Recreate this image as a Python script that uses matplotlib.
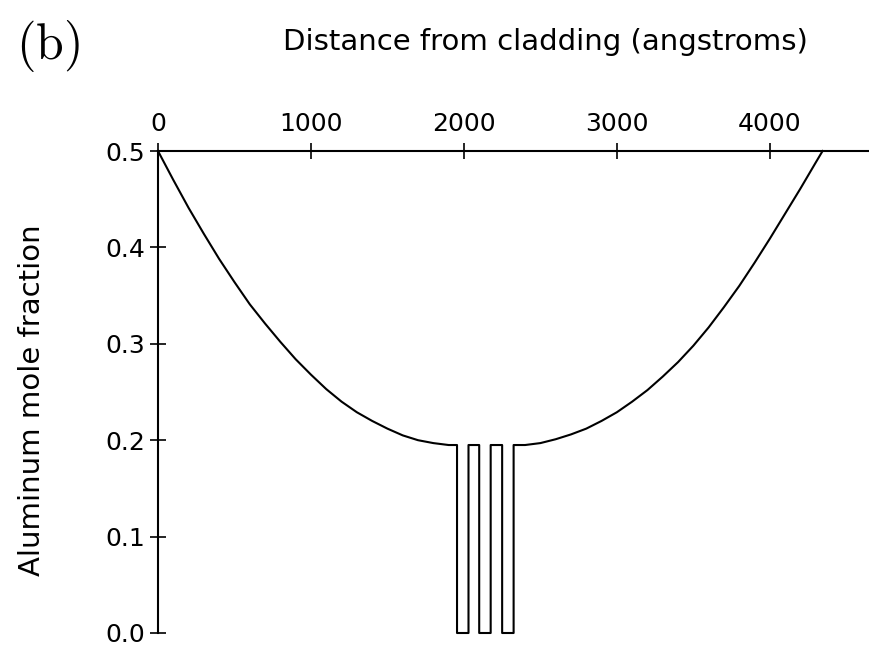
import matplotlib.pyplot as plt

# Perfil de fracción molar de aluminio (GRIN-SCH con tres pozos cuánticos)
# Rama izquierda del perfil graduado
x_izq = [0, 100, 200, 300, 400, 500, 600, 700, 800, 900, 1000,
         1100, 1200, 1300, 1400, 1500, 1600, 1700, 1800, 1900, 1955]
y_izq = [0.500, 0.470, 0.441, 0.414, 0.388, 0.364, 0.341, 0.321, 0.302, 0.284, 0.268,
         0.253, 0.240, 0.229, 0.220, 0.212, 0.205, 0.200, 0.197, 0.195, 0.195]

# Bordes de pozos y barreras
bordes_pozos = [1955, 2030, 2100, 2175, 2250, 2325]
nivel_barrera = 0.195
nivel_pozo = 0.0

# Rama derecha del perfil graduado
x_der = [2325, 2400, 2500, 2600, 2700, 2800, 2900, 3000, 3100, 3200, 3300,
         3400, 3500, 3600, 3700, 3800, 3900, 4000, 4100, 4200, 4300, 4345]
y_der = [0.195, 0.195, 0.197, 0.201, 0.206, 0.212, 0.220, 0.229, 0.240, 0.252, 0.266,
         0.281, 0.298, 0.317, 0.338, 0.360, 0.384, 0.409, 0.435, 0.461, 0.488, 0.500]

ticks_x = [0, 1000, 2000, 3000, 4000]
ticks_y = [0.0, 0.1, 0.2, 0.3, 0.4, 0.5]

# Construir el recorrido completo: rama izquierda, pozos, rama derecha
x_perfil = list(x_izq)
y_perfil = list(y_izq)
for i in range(0, len(bordes_pozos), 2):
    a, b = bordes_pozos[i], bordes_pozos[i + 1]
    x_perfil += [a, a, b, b]
    y_perfil += [nivel_barrera, nivel_pozo, nivel_pozo, nivel_barrera]
x_perfil += x_der
y_perfil += y_der

plt.rcParams['mathtext.fontset'] = 'cm'

fig = plt.figure(figsize=(8.7, 6.47), dpi=100)
ax = fig.add_axes([158 / 870, 1 - 633 / 647, 1 - 158 / 870, (633 - 151) / 647])

ax.plot(x_perfil, y_perfil, color='black', linewidth=1.5, clip_on=False,
        solid_joinstyle='round')

ax.set_xlim(0, 4655)
ax.set_ylim(0, 0.5)

for lado in ['right', 'bottom']:
    ax.spines[lado].set_visible(False)
for lado in ['top', 'left']:
    ax.spines[lado].set_linewidth(1.5)

ax.xaxis.tick_top()
ax.set_xticks(ticks_x)
ax.set_xticklabels([str(t) for t in ticks_x])
ax.set_yticks(ticks_y)
ax.set_yticklabels([f'{t:.1f}' for t in ticks_y])
ax.tick_params(axis='both', direction='inout', length=11, width=1.2,
               labelsize=18, colors='black')
ax.tick_params(axis='x', pad=5)
ax.tick_params(axis='y', pad=4)

fig.text(545 / 870, 1 - 42 / 647, 'Distance from cladding (angstroms)',
         ha='center', va='center', fontsize=21)
fig.text(32 / 870, 1 - 400 / 647, 'Aluminum mole fraction',
         ha='center', va='center', rotation=90, fontsize=21)
fig.text(16 / 870, 1 - 46 / 647, r'$\mathrm{(b)}$', ha='left', va='center',
         fontsize=36)

fig.savefig('out.png', dpi=100)
